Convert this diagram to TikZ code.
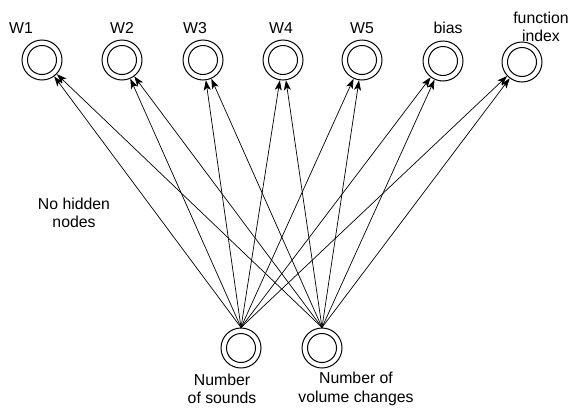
\documentclass[tikz,border=0pt]{standalone}
\usepackage{fontspec}
\setmainfont{Liberation Sans}
\usetikzlibrary{arrows.meta}
\begin{document}
\begin{tikzpicture}[x=1pt,y=-1pt,
  neuron/.style={circle,draw,line width=1pt,minimum size=40pt,inner sep=0pt,
    path picture={\draw[line width=1pt] (path picture bounding box.center) circle[radius=14.5pt];}},
  lbl/.style={inner sep=0pt,align=center,font=\fontsize{15.8}{18.5}\selectfont},
  conn/.style={line width=0.7pt,-{Stealth[length=10pt,width=7pt,inset=2.5pt]}}]
\useasboundingbox (0,0) rectangle (569,407);
\node[neuron] (w1) at (42,60) {};
\node[neuron] (w2) at (122,60) {};
\node[neuron] (w3) at (203,60) {};
\node[neuron] (w4) at (283,60) {};
\node[neuron] (w5) at (362,60) {};
\node[neuron] (bias) at (443,61) {};
\node[neuron] (fi) at (522,62) {};
\node[neuron] (s) at (241,348) {};
\node[neuron] (v) at (322,348) {};
\node[lbl] (lw1) at (21,28) {W1};
\node[lbl] (lw2) at (122,28) {W2};
\node[lbl] (lw3) at (195,28) {W3};
\node[lbl] (lw4) at (281,28) {W4};
\node[lbl] (lw5) at (362,28) {W5};
\node[lbl] (lb) at (448,28) {bias};
\node[lbl] (lfi) at (541,27) {function\\index};
\node[lbl] (lh) at (74,213) {No hidden\\nodes};
\node[lbl] (ls) at (222,389) {Number\\of sounds};
\node[lbl] (lv) at (356,389) {Number of\\volume changes};
\foreach \t in {w1,w2,w3,w4,w5,bias,fi}{
  \draw[conn] (s.north) -- (\t);
  \draw[conn] (v.north) -- (\t);
}
\end{tikzpicture}
\end{document}
